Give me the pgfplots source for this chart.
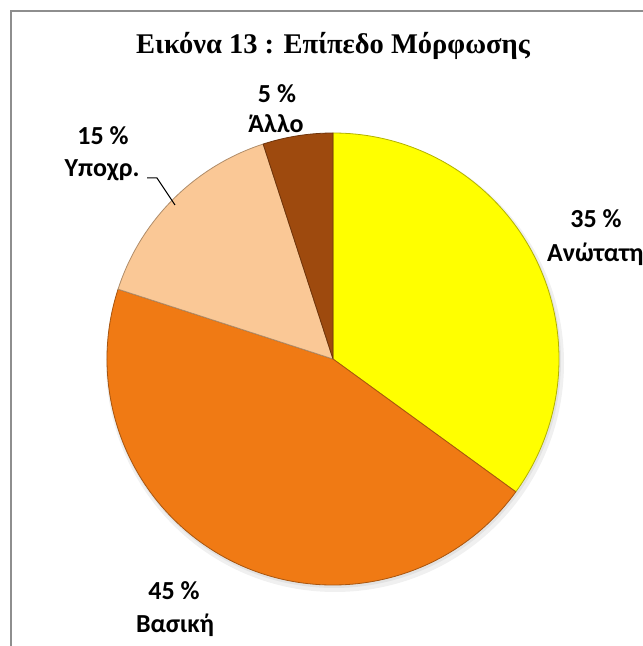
\documentclass[border=0pt]{standalone}
\usepackage{pgfplots}
\pgfplotsset{compat=1.18}
\usepackage{pgfplotstable}
\usepackage{fontspec}
\setmainfont{Liberation Serif}
\newfontfamily\lab{Carlito}
\definecolor{pieyellow}{HTML}{FFFF00}
\definecolor{pieorange}{HTML}{F07A14}
\definecolor{piepeach}{HTML}{FAC896}
\definecolor{piebrown}{HTML}{9E4A0E}
\definecolor{framegray}{HTML}{8E8E8E}

\pgfplotstableread{
val col
35 pieyellow
45 pieorange
15 piepeach
5 piebrown
}\piedata

\begin{document}
\begin{tikzpicture}
\begin{axis}[
  at={(0,0)}, anchor=origin,
  scale only axis, width=643bp, height=646bp,
  xmin=0, xmax=643, ymin=0, ymax=646,
  hide axis, clip=false,
]
% frame
\draw[framegray, line width=2bp] (axis cs:11,0) -- (axis cs:11,635) -- (axis cs:660,635);
% soft shadow
\fill[black, opacity=0.06] (axis cs:335,283) circle[radius=229bp];
\fill[black, opacity=0.06] (axis cs:334,285) circle[radius=227bp];
% slices
\def\startang{90}
\pgfplotsforeachungrouped \i in {0,...,3}{%
  \pgfplotstablegetelem{\i}{val}\of\piedata
  \pgfmathsetmacro\sweep{3.6*\pgfplotsretval}%
  \pgfplotstablegetelem{\i}{col}\of\piedata
  \edef\slicecol{\pgfplotsretval}%
  \pgfmathsetmacro\endang{\startang-\sweep}%
  \edef\temp{\noexpand\filldraw[fill=\slicecol, draw=\slicecol!70!black, line width=0.8bp, line join=round]
    (axis cs:333,287) -- ++(\startang:226bp) arc[start angle=\startang, end angle=\endang, radius=226bp] -- cycle;}%
  \temp
  \let\startang\endang
}
% leader line
\draw[black, line width=1bp] (axis cs:147,468) -- (axis cs:157,468) -- (axis cs:175,441);
% title
\node[anchor=base, font=\fontsize{28.5bp}{32bp}\selectfont\bfseries] at (axis cs:333,592) {Εικόνα 13 : Επίπεδο Μόρφωσης};
% labels
\tikzset{lbl/.style={font=\fontsize{26bp}{30bp}\selectfont\lab\bfseries, inner sep=0pt}}
\node[lbl, anchor=base] at (axis cs:277,543) {5 \%};
\node[lbl, anchor=base] at (axis cs:276,513) {Άλλο};
\node[lbl, anchor=base] at (axis cs:103,501) {15 \%};
\node[lbl, anchor=base] at (axis cs:102,469) {Υποχρ.};
\node[lbl, anchor=base] at (axis cs:596,418) {35 \%};
\node[lbl, anchor=base west] at (axis cs:547,384) {Ανώτατη};
\node[lbl, anchor=base] at (axis cs:174,46) {45 \%};
\node[lbl, anchor=base] at (axis cs:175,14) {Βασική};
\end{axis}
\pgfresetboundingbox
\useasboundingbox (0,0) rectangle (643bp,646bp);
\end{tikzpicture}
\end{document}
